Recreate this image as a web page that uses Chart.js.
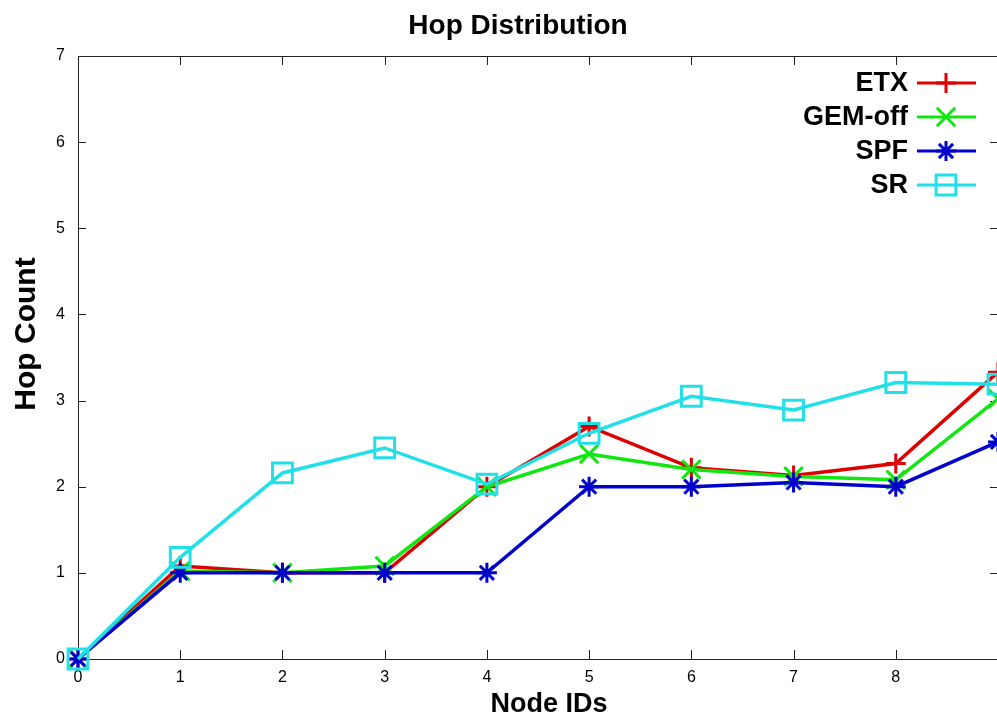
<!DOCTYPE html>
<html lang="en">
<head>
    <meta charset="UTF-8">
    <title>Hop Distribution</title>
    <style>
        body {
            margin: 0;
            overflow: hidden;
            background: #fff;
        }
        #wrap {
            position: absolute;
            left: 0;
            top: 0;
            width: 1000px;
            height: 719px;
        }
    </style>
</head>
<body>
    <div id="wrap">
        <canvas id="chart" width="1000" height="719"></canvas>
    </div>
    <script src="https://cdn.jsdelivr.net/npm/chart.js"></script>
    <script>
        // values
        const nodeIds = [0, 1, 2, 3, 4, 5, 6, 7, 8, 9];
        const etx    = [0, 1.08, 1.0, 1.0, 2.0, 2.70, 2.22, 2.13, 2.27, 3.33];
        const gemOff = [0, 1.02, 1.0, 1.08, 2.0, 2.38, 2.20, 2.12, 2.08, 3.02];
        const spf    = [0, 1.0, 1.0, 1.0, 1.0, 2.0, 2.0, 2.05, 2.0, 2.52];
        const sr     = [0, 1.18, 2.16, 2.45, 2.03, 2.62, 3.05, 2.89, 3.21, 3.19];
        const xTickLabels = [0, 1, 2, 3, 4, 5, 6, 7, 8];
        const yTickLabels = [0, 1, 2, 3, 4, 5, 6, 7];

        const toPoints = arr => arr.map((v, i) => ({ x: nodeIds[i], y: v }));

        function series(label, arr, color, style, radius, order) {
            return {
                label: label,
                data: toPoints(arr),
                borderColor: color,
                backgroundColor: color,
                borderWidth: 3.5,
                pointStyle: style,
                pointRadius: radius,
                pointHoverRadius: radius,
                pointBorderColor: color,
                pointBackgroundColor: 'rgba(0,0,0,0)',
                pointBorderWidth: 3,
                tension: 0,
                clip: false,
                order: order
            };
        }

        // frame, inward ticks, titles and legend
        const decor = {
            id: 'decor',
            beforeDatasetsDraw(chart) {
                const ctx = chart.ctx;
                const a = chart.chartArea;
                const xs = chart.scales.x, ys = chart.scales.y;
                ctx.save();
                ctx.strokeStyle = '#222';
                ctx.lineWidth = 1;
                ctx.strokeRect(a.left + 0.5, a.top + 0.5, a.right - a.left, a.bottom - a.top);
                ctx.beginPath();
                xTickLabels.forEach(v => {
                    const px = Math.round(xs.getPixelForValue(v)) + 0.5;
                    ctx.moveTo(px, a.bottom); ctx.lineTo(px, a.bottom - 9);
                    ctx.moveTo(px, a.top); ctx.lineTo(px, a.top + 9);
                });
                yTickLabels.forEach(v => {
                    const py = Math.round(ys.getPixelForValue(v)) + 0.5;
                    ctx.moveTo(a.left, py); ctx.lineTo(a.left + 8, py);
                    ctx.moveTo(a.right, py); ctx.lineTo(a.right - 8, py);
                });
                ctx.stroke();
                ctx.restore();
            },
            afterDraw(chart) {
                const ctx = chart.ctx;
                ctx.save();
                ctx.fillStyle = '#000';
                ctx.textAlign = 'center';
                ctx.textBaseline = 'middle';
                ctx.font = 'bold 28px "Liberation Sans", Arial, sans-serif';
                ctx.fillText('Hop Distribution', 518, 26);
                ctx.font = 'bold 27px "Liberation Sans", Arial, sans-serif';
                ctx.fillText('Node IDs', 549, 705);
                ctx.save();
                ctx.translate(27, 334);
                ctx.rotate(-Math.PI / 2);
                ctx.font = 'bold 30px "Liberation Sans", Arial, sans-serif';
                ctx.fillText('Hop Count', 0, 0);
                ctx.restore();

                // legend: label on the left, line sample with marker on the right
                ctx.font = 'bold 27px "Liberation Sans", Arial, sans-serif';
                ctx.textAlign = 'right';
                chart.data.datasets.forEach((ds, i) => {
                    const y = 83 + i * 34;
                    ctx.fillStyle = '#000';
                    ctx.fillText(ds.label, 908, y + 1);
                    ctx.strokeStyle = ds.borderColor;
                    ctx.lineWidth = 3;
                    ctx.beginPath();
                    ctx.moveTo(917, y);
                    ctx.lineTo(976, y);
                    ctx.stroke();
                    ctx.fillStyle = 'rgba(0,0,0,0)';
                    Chart.helpers.drawPoint(ctx, {
                        pointStyle: ds.pointStyle,
                        radius: ds.pointRadius,
                        rotation: 0,
                        borderWidth: 3
                    }, 946, y);
                });
                ctx.restore();
            }
        };

        const ctx = document.getElementById('chart').getContext('2d');
        const myChart = new Chart(ctx, {
            type: 'line',
            data: {
                datasets: [
                    series('ETX', etx, '#dd0000', 'cross', 10, 4),
                    series('GEM-off', gemOff, '#11e611', 'crossRot', 13, 3),
                    series('SPF', spf, '#0000cc', 'star', 10, 2),
                    series('SR', sr, '#22e0e8', 'rect', 14, 1)
                ]
            },
            options: {
                responsive: false,
                animation: false,
                devicePixelRatio: 1,
                layout: {
                    autoPadding: false,
                    padding: { top: 56, right: 2, left: 0, bottom: 0 }
                },
                plugins: {
                    legend: { display: false },
                    title: { display: false },
                    tooltip: { enabled: false }
                },
                scales: {
                    x: {
                        type: 'linear',
                        min: 0,
                        max: 9,
                        afterFit: s => { s.height = 60; },
                        afterBuildTicks: s => { s.ticks = xTickLabels.map(v => ({ value: v })); },
                        grid: { display: false, drawTicks: false },
                        border: { display: false },
                        ticks: {
                            color: '#000',
                            padding: 9,
                            maxRotation: 0,
                            font: { size: 16, family: '"Liberation Sans", Arial, sans-serif' }
                        }
                    },
                    y: {
                        min: 0,
                        max: 7,
                        afterFit: s => { s.width = 78; },
                        afterBuildTicks: s => { s.ticks = yTickLabels.map(v => ({ value: v })); },
                        grid: { display: false, drawTicks: false },
                        border: { display: false },
                        ticks: {
                            color: '#000',
                            padding: 13,
                            font: { size: 16, family: '"Liberation Sans", Arial, sans-serif' }
                        }
                    }
                }
            },
            plugins: [decor]
        });
    </script>
</body>
</html>
